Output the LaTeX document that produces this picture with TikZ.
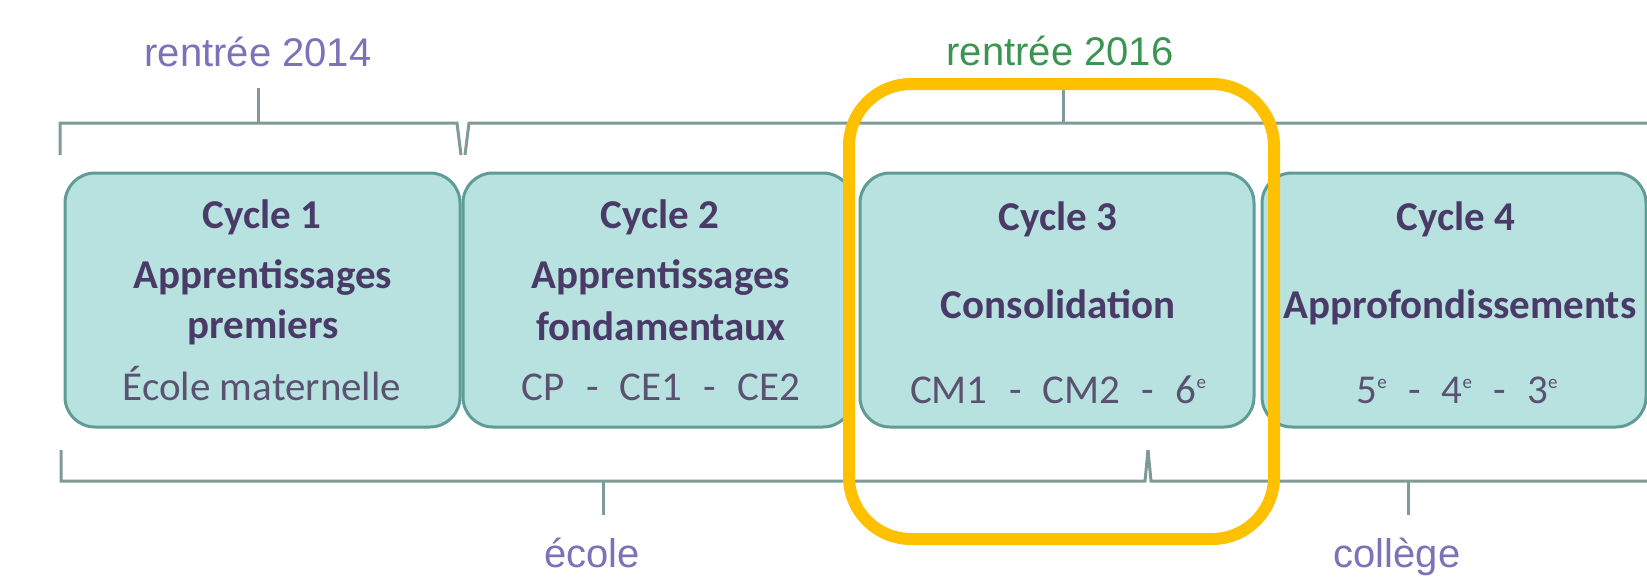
\documentclass[tikz,border=0pt]{standalone}
\usepackage{fontspec}
\setmainfont{Carlito}
\newfontfamily\arialf{Liberation Sans}
\definecolor{boxfill}{HTML}{B8E2E0}
\definecolor{boxline}{HTML}{5F9C95}
\definecolor{brk}{HTML}{7E9B97}
\definecolor{titlec}{HTML}{4A3A68}
\definecolor{subc}{HTML}{5B5272}
\definecolor{labc}{HTML}{7B72B8}
\definecolor{greenc}{HTML}{3A9452}
\definecolor{hlc}{HTML}{FFC000}
\newcommand\dsh{\hspace{0.52em}-\hspace{0.52em}}
\newcommand\supe{\raisebox{0.75ex}{\fontsize{19}{20}\selectfont e}}
\begin{document}
\begin{tikzpicture}[x=1pt,y=-1pt,
  cyclebox/.style={draw=boxline, fill=boxfill, line width=3pt, rounded corners=30pt, minimum height=254pt, inner sep=0pt},
  ttl/.style={anchor=base, inner sep=0pt, text=titlec, font=\fontsize{41}{49}\selectfont\bfseries},
  sub/.style={anchor=base, inner sep=0pt, text=subc, font=\fontsize{41}{49}\selectfont},
  lab/.style={anchor=base, inner sep=0pt, text=labc, font=\arialf\fontsize{40}{48}\selectfont},
  brline/.style={draw=brk, line width=3pt},
  hlbox/.style={draw=hlc, line width=12pt, rounded corners=62pt, minimum width=425pt, minimum height=455pt, inner sep=0pt}
]
\useasboundingbox[fill=white] (0,0) rectangle (1647,587);

% brackets
\coordinate (a1) at (60,155); \coordinate (a2) at (60,123); \coordinate (a3) at (457,123); \coordinate (a4) at (461,155);
\coordinate (b1) at (465,155); \coordinate (b2) at (469,123); \coordinate (b3) at (1647,123);
\coordinate (c1) at (61,450); \coordinate (c2) at (61,481); \coordinate (c3) at (1145,481); \coordinate (c4) at (1148,450);
\coordinate (d1) at (1148,450); \coordinate (d2) at (1151,481); \coordinate (d3) at (1647,481);
\coordinate (t1a) at (258,123); \coordinate (t1b) at (258,88);
\coordinate (t2a) at (1063,123); \coordinate (t2b) at (1063,90);
\coordinate (t3a) at (603,481); \coordinate (t3b) at (603,515);
\coordinate (t4a) at (1408,481); \coordinate (t4b) at (1408,515);
\draw[brline] (a1) -- (a2) -- (a3) -- (a4);
\draw[brline] (b1) -- (b2) -- (b3);
\draw[brline] (c1) -- (c2) -- (c3) -- (c4);
\draw[brline] (d1) -- (d2) -- (d3);
\draw[brline] (t1a) -- (t1b);
\draw[brline] (t2a) -- (t2b);
\draw[brline] (t3a) -- (t3b);
\draw[brline] (t4a) -- (t4b);

% labels
\node[lab] (r14) at (258,66) {rentrée 2014};
\node[lab, text=greenc] (r16) at (1060,65) {rentrée 2016};
\node[lab] (ecole) at (592,567) {école};
\node[lab] (college) at (1397,567) {collège};

% boxes
\node[cyclebox, minimum width=395pt] (cy1) at (262.5,300) {};
\node[cyclebox, minimum width=390pt] (cy2) at (658,300) {};
\node[cyclebox, minimum width=394pt] (cy3) at (1057,300) {};
\node[cyclebox, minimum width=384pt] (cy4) at (1454,300) {};

% box texts
\node[ttl] (c1l1) at (262,228) {Cycle 1};
\node[ttl] (c1l2) at (263,288) {Apprentissages};
\node[ttl] (c1l3) at (263,338) {premiers};
\node[sub] (c1l4) at (262,400) {École maternelle};

\node[ttl] (c2l1) at (660,228) {Cycle 2};
\node[ttl] (c2l2) at (661,288) {Apprentissages};
\node[ttl] (c2l3) at (661,340) {fondamentaux};
\node[sub] (c2l4) at (661,400) {CP\dsh CE1\dsh CE2};

\node[ttl] (c3l1) at (1058,230) {Cycle 3};
\node[ttl] (c3l2) at (1058,318) {Consolidation};
\node[sub] (c3l4) at (1058,403) {CM1\dsh CM2\dsh 6\supe};

\node[ttl] (c4l1) at (1456,230) {Cycle 4};
\node[ttl] (c4l2) at (1460,318) {Approfondissements};
\node[sub] (c4l4) at (1457,403) {5\supe\dsh 4\supe\dsh 3\supe};

% highlight
\node[hlbox] (hl) at (1061.5,311.5) {};
\end{tikzpicture}
\end{document}
